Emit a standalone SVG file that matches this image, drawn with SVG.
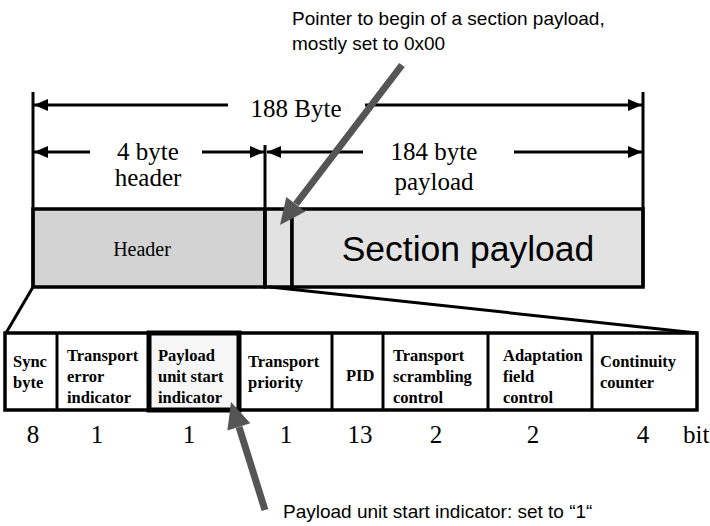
<svg xmlns="http://www.w3.org/2000/svg" width="710" height="526" viewBox="0 0 710 526">
<style>
.dim{stroke:#000;stroke-width:3;fill:none}
.box{stroke:#000;stroke-width:3.5}
.sans{font-family:"Liberation Sans",Arial,sans-serif;fill:#000}
.serif{font-family:"Liberation Serif","Times New Roman",serif;fill:#000}
.cell{font-family:"Liberation Serif","Times New Roman",serif;font-weight:bold;font-size:16.5px;fill:#000}
.num{font-family:"Liberation Serif","Times New Roman",serif;font-size:25px;fill:#000}
.garrow{fill:#555555}
</style>
<defs>
<marker id="ah" viewBox="0 0 14 12" refX="14" refY="6" markerWidth="14" markerHeight="12" markerUnits="userSpaceOnUse" orient="auto">
<path d="M0,0 L14,6 L0,12 z" fill="#000"/>
</marker>
</defs>
<rect width="710" height="526" fill="#fff"/>

<g id="packet">
<rect id="header-box" class="box" x="33" y="209" width="232" height="78" fill="#d3d3d3"/>
<rect id="pointer-box" class="box" x="265" y="209" width="27" height="78" fill="#e2e2e2"/>
<rect id="section-box" class="box" x="292" y="209" width="351" height="78" fill="#e2e2e2"/>
<text class="serif" x="142" y="256" font-size="20" text-anchor="middle">Header</text>
<text class="sans" x="468" y="261" font-size="35.5" text-anchor="middle">Section payload</text>
</g>

<g id="dimensions">
<line class="dim" x1="33" y1="92" x2="33" y2="287"/>
<line class="dim" x1="643" y1="92" x2="643" y2="287"/>
<line class="dim" x1="265" y1="145" x2="265" y2="287"/>
<line class="dim" x1="228" y1="105" x2="34" y2="105" marker-end="url(#ah)"/>
<line class="dim" x1="365" y1="105" x2="642" y2="105" marker-end="url(#ah)"/>
<line class="dim" x1="90" y1="152" x2="34" y2="152" marker-end="url(#ah)"/>
<line class="dim" x1="202" y1="152" x2="264" y2="152" marker-end="url(#ah)"/>
<line class="dim" x1="363" y1="152" x2="267" y2="152" marker-end="url(#ah)"/>
<line class="dim" x1="514" y1="152" x2="642" y2="152" marker-end="url(#ah)"/>
<text class="serif" x="296" y="117" font-size="25" text-anchor="middle">188 Byte</text>
<text class="serif" x="148" y="160" font-size="25" text-anchor="middle">4 byte</text>
<text class="serif" x="148" y="186" font-size="25" text-anchor="middle">header</text>
<text class="serif" x="434" y="160" font-size="25" text-anchor="middle">184 byte</text>
<text class="serif" x="434" y="190" font-size="25" text-anchor="middle">payload</text>
</g>

<g id="connectors">
<line class="dim" x1="33" y1="287" x2="6" y2="333"/>
<line class="dim" x1="270" y1="287" x2="697" y2="333"/>
</g>

<g id="header-fields">
<rect class="box" x="5" y="333" width="692" height="77" fill="#fff" stroke-width="4"/>
<rect x="149" y="333" width="90" height="77" fill="#f6f6f6" stroke="#000" stroke-width="5"/>
<line class="dim" x1="57" y1="333" x2="57" y2="410" stroke-width="4"/>
<line class="dim" x1="332" y1="333" x2="332" y2="410" stroke-width="4"/>
<line class="dim" x1="383" y1="333" x2="383" y2="410" stroke-width="4"/>
<line class="dim" x1="488" y1="333" x2="488" y2="410" stroke-width="4"/>
<line class="dim" x1="592" y1="333" x2="592" y2="410" stroke-width="4"/>
<g id="f-sync"><text class="cell" x="13" y="367">Sync</text><text class="cell" x="13" y="388">byte</text></g>
<g id="f-tei"><text class="cell" x="67" y="361">Transport</text><text class="cell" x="67" y="382">error</text><text class="cell" x="67" y="403">indicator</text></g>
<g id="f-pusi"><text class="cell" x="158" y="361">Payload</text><text class="cell" x="158" y="382">unit start</text><text class="cell" x="158" y="403">indicator</text></g>
<g id="f-tp"><text class="cell" x="248" y="367">Transport</text><text class="cell" x="248" y="388">priority</text></g>
<g id="f-pid"><text class="cell" x="346" y="381">PID</text></g>
<g id="f-tsc"><text class="cell" x="393" y="361">Transport</text><text class="cell" x="393" y="382">scrambling</text><text class="cell" x="393" y="403">control</text></g>
<g id="f-afc"><text class="cell" x="503" y="361">Adaptation</text><text class="cell" x="503" y="382">field</text><text class="cell" x="503" y="403">control</text></g>
<g id="f-cc"><text class="cell" x="600" y="367">Continuity</text><text class="cell" x="600" y="388">counter</text></g>
</g>

<g id="bit-counts">
<text class="num" x="33" y="443" text-anchor="middle">8</text>
<text class="num" x="97" y="443" text-anchor="middle">1</text>
<text class="num" x="189" y="443" text-anchor="middle">1</text>
<text class="num" x="286" y="443" text-anchor="middle">1</text>
<text class="num" x="360" y="443" text-anchor="middle">13</text>
<text class="num" x="436" y="443" text-anchor="middle">2</text>
<text class="num" x="533" y="443" text-anchor="middle">2</text>
<text class="num" x="643" y="443" text-anchor="middle">4</text>
<text class="num" x="683" y="443">bit</text>
</g>

<g id="pointer-note">
<text class="sans" x="292" y="25" font-size="19">Pointer to begin of a section payload,</text>
<text class="sans" x="292" y="50" font-size="19">mostly set to 0x00</text>
<line x1="402" y1="65" x2="296" y2="204" stroke="#555" stroke-width="7"/>
<polygon class="garrow" points="280,225 305.3,211.6 286.3,197"/>
</g>

<g id="pusi-note">
<text class="sans" x="283" y="518" font-size="19">Payload unit start indicator: set to “1“</text>
<line x1="265" y1="510" x2="239" y2="427" stroke="#555" stroke-width="7"/>
<polygon class="garrow" points="231,402 250.3,423.2 227.4,430.4"/>
</g>
</svg>
